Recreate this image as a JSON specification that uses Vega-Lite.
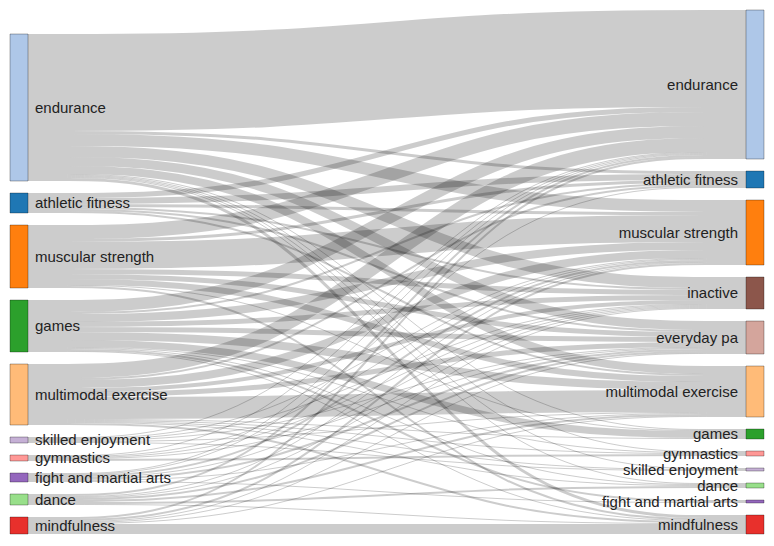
{
  "$schema": "https://vega.github.io/schema/vega-lite/v6.json",
  "width": 718,
  "height": 524,
  "autosize": "none",
  "padding": {"left": 28, "top": 10, "right": 28, "bottom": 12},
  "background": "white",
  "config": {"view": {"stroke": null}},
  "datasets": {
    "links": [
      {"s": "endurance", "si": 0, "t": "endurance", "ti": 0, "v": 97},
      {"s": "endurance", "si": 0, "t": "athletic fitness", "ti": 1, "v": 3},
      {"s": "endurance", "si": 0, "t": "muscular strength", "ti": 2, "v": 12},
      {"s": "endurance", "si": 0, "t": "inactive", "ti": 3, "v": 11},
      {"s": "endurance", "si": 0, "t": "everyday pa", "ti": 4, "v": 9},
      {"s": "endurance", "si": 0, "t": "multimodal exercise", "ti": 5, "v": 8},
      {"s": "endurance", "si": 0, "t": "games", "ti": 6, "v": 1},
      {"s": "endurance", "si": 0, "t": "gymnastics", "ti": 7, "v": 1},
      {"s": "endurance", "si": 0, "t": "skilled enjoyment", "ti": 8, "v": 1},
      {"s": "endurance", "si": 0, "t": "dance", "ti": 9, "v": 1},
      {"s": "endurance", "si": 0, "t": "mindfulness", "ti": 11, "v": 3},
      {"s": "athletic fitness", "si": 1, "t": "endurance", "ti": 0, "v": 5},
      {"s": "athletic fitness", "si": 1, "t": "athletic fitness", "ti": 1, "v": 6},
      {"s": "athletic fitness", "si": 1, "t": "muscular strength", "ti": 2, "v": 3},
      {"s": "athletic fitness", "si": 1, "t": "inactive", "ti": 3, "v": 2},
      {"s": "athletic fitness", "si": 1, "t": "everyday pa", "ti": 4, "v": 2},
      {"s": "athletic fitness", "si": 1, "t": "multimodal exercise", "ti": 5, "v": 2},
      {"s": "muscular strength", "si": 2, "t": "endurance", "ti": 0, "v": 14},
      {"s": "muscular strength", "si": 2, "t": "athletic fitness", "ti": 1, "v": 3},
      {"s": "muscular strength", "si": 2, "t": "muscular strength", "ti": 2, "v": 27},
      {"s": "muscular strength", "si": 2, "t": "inactive", "ti": 3, "v": 5},
      {"s": "muscular strength", "si": 2, "t": "everyday pa", "ti": 4, "v": 5},
      {"s": "muscular strength", "si": 2, "t": "multimodal exercise", "ti": 5, "v": 6},
      {"s": "muscular strength", "si": 2, "t": "games", "ti": 6, "v": 1},
      {"s": "muscular strength", "si": 2, "t": "mindfulness", "ti": 11, "v": 2},
      {"s": "games", "si": 3, "t": "endurance", "ti": 0, "v": 12},
      {"s": "games", "si": 3, "t": "athletic fitness", "ti": 1, "v": 2},
      {"s": "games", "si": 3, "t": "muscular strength", "ti": 2, "v": 8},
      {"s": "games", "si": 3, "t": "inactive", "ti": 3, "v": 5},
      {"s": "games", "si": 3, "t": "everyday pa", "ti": 4, "v": 5},
      {"s": "games", "si": 3, "t": "multimodal exercise", "ti": 5, "v": 8},
      {"s": "games", "si": 3, "t": "games", "ti": 6, "v": 7},
      {"s": "games", "si": 3, "t": "gymnastics", "ti": 7, "v": 1},
      {"s": "games", "si": 3, "t": "dance", "ti": 9, "v": 1},
      {"s": "games", "si": 3, "t": "fight and martial arts", "ti": 10, "v": 2},
      {"s": "games", "si": 3, "t": "mindfulness", "ti": 11, "v": 1},
      {"s": "multimodal exercise", "si": 4, "t": "endurance", "ti": 0, "v": 14},
      {"s": "multimodal exercise", "si": 4, "t": "athletic fitness", "ti": 1, "v": 2},
      {"s": "multimodal exercise", "si": 4, "t": "muscular strength", "ti": 2, "v": 8},
      {"s": "multimodal exercise", "si": 4, "t": "inactive", "ti": 3, "v": 4},
      {"s": "multimodal exercise", "si": 4, "t": "everyday pa", "ti": 4, "v": 5},
      {"s": "multimodal exercise", "si": 4, "t": "multimodal exercise", "ti": 5, "v": 22},
      {"s": "multimodal exercise", "si": 4, "t": "games", "ti": 6, "v": 1},
      {"s": "multimodal exercise", "si": 4, "t": "gymnastics", "ti": 7, "v": 1},
      {"s": "multimodal exercise", "si": 4, "t": "skilled enjoyment", "ti": 8, "v": 1},
      {"s": "multimodal exercise", "si": 4, "t": "dance", "ti": 9, "v": 1},
      {"s": "multimodal exercise", "si": 4, "t": "mindfulness", "ti": 11, "v": 2},
      {"s": "skilled enjoyment", "si": 5, "t": "endurance", "ti": 0, "v": 1},
      {"s": "skilled enjoyment", "si": 5, "t": "muscular strength", "ti": 2, "v": 1},
      {"s": "skilled enjoyment", "si": 5, "t": "inactive", "ti": 3, "v": 1},
      {"s": "skilled enjoyment", "si": 5, "t": "everyday pa", "ti": 4, "v": 1},
      {"s": "skilled enjoyment", "si": 5, "t": "multimodal exercise", "ti": 5, "v": 1},
      {"s": "skilled enjoyment", "si": 5, "t": "skilled enjoyment", "ti": 8, "v": 1},
      {"s": "gymnastics", "si": 6, "t": "endurance", "ti": 0, "v": 1},
      {"s": "gymnastics", "si": 6, "t": "muscular strength", "ti": 2, "v": 1},
      {"s": "gymnastics", "si": 6, "t": "inactive", "ti": 3, "v": 1},
      {"s": "gymnastics", "si": 6, "t": "everyday pa", "ti": 4, "v": 1},
      {"s": "gymnastics", "si": 6, "t": "gymnastics", "ti": 7, "v": 2},
      {"s": "fight and martial arts", "si": 7, "t": "endurance", "ti": 0, "v": 1},
      {"s": "fight and martial arts", "si": 7, "t": "athletic fitness", "ti": 1, "v": 1},
      {"s": "fight and martial arts", "si": 7, "t": "muscular strength", "ti": 2, "v": 2},
      {"s": "fight and martial arts", "si": 7, "t": "inactive", "ti": 3, "v": 1},
      {"s": "fight and martial arts", "si": 7, "t": "everyday pa", "ti": 4, "v": 2},
      {"s": "fight and martial arts", "si": 7, "t": "multimodal exercise", "ti": 5, "v": 1},
      {"s": "fight and martial arts", "si": 7, "t": "fight and martial arts", "ti": 10, "v": 1},
      {"s": "dance", "si": 8, "t": "endurance", "ti": 0, "v": 2},
      {"s": "dance", "si": 8, "t": "muscular strength", "ti": 2, "v": 1},
      {"s": "dance", "si": 8, "t": "inactive", "ti": 3, "v": 1},
      {"s": "dance", "si": 8, "t": "everyday pa", "ti": 4, "v": 2},
      {"s": "dance", "si": 8, "t": "multimodal exercise", "ti": 5, "v": 2},
      {"s": "dance", "si": 8, "t": "dance", "ti": 9, "v": 2},
      {"s": "dance", "si": 8, "t": "mindfulness", "ti": 11, "v": 1},
      {"s": "mindfulness", "si": 9, "t": "endurance", "ti": 0, "v": 2},
      {"s": "mindfulness", "si": 9, "t": "muscular strength", "ti": 2, "v": 2},
      {"s": "mindfulness", "si": 9, "t": "inactive", "ti": 3, "v": 1},
      {"s": "mindfulness", "si": 9, "t": "everyday pa", "ti": 4, "v": 1},
      {"s": "mindfulness", "si": 9, "t": "multimodal exercise", "ti": 5, "v": 1},
      {"s": "mindfulness", "si": 9, "t": "mindfulness", "ti": 11, "v": 10}
    ]
  },
  "layer": [
    {
      "data": {"name": "links"},
      "transform": [
        {"stack": "v", "groupby": [], "sort": [{"field": "si", "order": "ascending"}, {"field": "ti", "order": "ascending"}], "as": ["a0", "a1"]},
        {"stack": "v", "groupby": [], "sort": [{"field": "ti", "order": "ascending"}, {"field": "si", "order": "ascending"}], "as": ["b0", "b1"]},
        {"calculate": "(datum.a0 + datum.a1) / 2 + datum.si * 12 + 24", "as": "ys"},
        {"calculate": "datum.ys", "as": "ys2"},
        {"calculate": "(datum.b0 + datum.b1) / 2 + datum.ti * 12", "as": "yt"},
        {"calculate": "datum.yt", "as": "yt2"},
        {"fold": ["ys", "ys2", "yt2", "yt"], "as": ["k", "y"]},
        {"calculate": "indexof(['ys', 'ys2', 'yt2', 'yt'], datum.k)", "as": "xk"}
      ],
      "mark": {"type": "line", "interpolate": "basis", "stroke": "#000", "strokeOpacity": 0.2, "strokeCap": "butt"},
      "encoding": {
        "x": {"field": "xk", "type": "quantitative", "scale": {"domain": [0, 3], "nice": false, "zero": false}, "axis": null},
        "y": {"field": "y", "type": "quantitative", "scale": {"domain": [0, 524], "reverse": true, "nice": false, "zero": false}, "axis": null},
        "size": {"field": "v", "type": "quantitative", "scale": {"domain": [0, 100], "range": [0, 100]}, "legend": null},
        "detail": [{"field": "s"}, {"field": "t"}]
      }
    },
    {
      "data": {"name": "links"},
      "transform": [
        {"aggregate": [{"op": "sum", "field": "v", "as": "tot"}], "groupby": ["s", "si"]},
        {"stack": "tot", "groupby": [], "sort": [{"field": "si", "order": "ascending"}], "as": ["n0", "n1"]},
        {"calculate": "datum.n0 + datum.si * 12 + 24", "as": "y0"},
        {"calculate": "datum.n1 + datum.si * 12 + 24", "as": "y1"},
        {"calculate": "(datum.y0 + datum.y1) / 2", "as": "ym"}
      ],
      "layer": [
        {
          "mark": {"type": "rect", "xOffset": -18, "x2Offset": 0, "stroke": "#000", "strokeOpacity": 0.3, "strokeWidth": 1},
          "encoding": {
            "x": {"datum": 0, "type": "quantitative"},
            "x2": {"datum": 0},
            "y": {"field": "y0", "type": "quantitative"},
            "y2": {"field": "y1"},
            "fill": {"field": "s", "type": "nominal", "legend": null,
              "scale": {
                "domain": ["endurance", "athletic fitness", "muscular strength", "games", "multimodal exercise", "skilled enjoyment", "gymnastics", "fight and martial arts", "dance", "mindfulness", "inactive", "everyday pa"],
                "range": ["#aec7e8", "#1f77b4", "#ff7f0e", "#2ca02c", "#ffbb78", "#c5b0d5", "#ff9896", "#9467bd", "#98df8a", "#e8302c", "#8c564b", "#d4a59c"]
              }
            }
          }
        },
        {
          "mark": {"type": "text", "align": "left", "baseline": "middle", "dx": 7, "font": "Liberation Sans", "fontSize": 15, "fill": "#222"},
          "encoding": {
            "x": {"datum": 0, "type": "quantitative"},
            "y": {"field": "ym", "type": "quantitative"},
            "text": {"field": "s"}
          }
        }
      ]
    },
    {
      "data": {"name": "links"},
      "transform": [
        {"aggregate": [{"op": "sum", "field": "v", "as": "tot"}], "groupby": ["t", "ti"]},
        {"stack": "tot", "groupby": [], "sort": [{"field": "ti", "order": "ascending"}], "as": ["n0", "n1"]},
        {"calculate": "datum.n0 + datum.ti * 12", "as": "y0"},
        {"calculate": "datum.n1 + datum.ti * 12", "as": "y1"},
        {"calculate": "(datum.y0 + datum.y1) / 2", "as": "ym"}
      ],
      "layer": [
        {
          "mark": {"type": "rect", "xOffset": 0, "x2Offset": 18, "stroke": "#000", "strokeOpacity": 0.3, "strokeWidth": 1},
          "encoding": {
            "x": {"datum": 3, "type": "quantitative"},
            "x2": {"datum": 3},
            "y": {"field": "y0", "type": "quantitative"},
            "y2": {"field": "y1"},
            "fill": {"field": "t", "type": "nominal", "legend": null}
          }
        },
        {
          "mark": {"type": "text", "align": "right", "baseline": "middle", "dx": -8, "font": "Liberation Sans", "fontSize": 15, "fill": "#222"},
          "encoding": {
            "x": {"datum": 3, "type": "quantitative"},
            "y": {"field": "ym", "type": "quantitative"},
            "text": {"field": "t"}
          }
        }
      ]
    }
  ]
}
